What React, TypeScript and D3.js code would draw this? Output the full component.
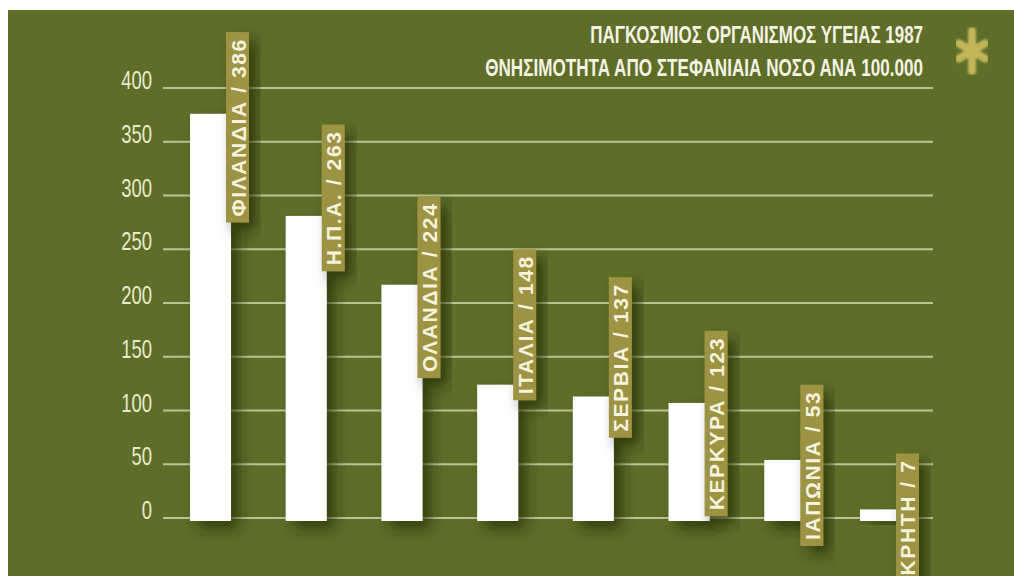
import React, { useEffect, useRef } from "react";
import * as d3 from "d3";

const categories = ["ΦΙΛΑΝΔΙΑ", "Η.Π.Α.", "ΟΛΑΝΔΙΑ", "ΙΤΑΛΙΑ", "ΣΕΡΒΙΑ", "ΚΕΡΚΥΡΑ", "ΙΑΠΩΝΙΑ", "ΚΡΗΤΗ"];
// values printed on the tags
const labelValues = [386, 263, 224, 148, 137, 123, 53, 7];
// bar heights as drawn in the picture
const barValues = [376, 281, 217, 124, 113, 107, 54, 8];
// where each tag starts (top end), in axis units
const labelTops = [452, 366, 299, 250, 224, 174, 124, 60];
const yTicks = [0, 50, 100, 150, 200, 250, 300, 350, 400];
const titleLines = [
  "ΠΑΓΚΟΣΜΙΟΣ ΟΡΓΑΝΙΣΜΟΣ ΥΓΕΙΑΣ 1987",
  "ΘΝΗΣΙΜΟΤΗΤΑ ΑΠΟ ΣΤΕΦΑΝΙΑΙΑ ΝΟΣΟ ΑΝΑ 100.000",
];

const W = 1014;
const H = 576;
const BG = "#5e6e28";
const GOLD = "#9c9443";

export default function App() {
  const ref = useRef<SVGSVGElement | null>(null);

  useEffect(() => {
    const svg = d3.select(ref.current);
    svg.selectAll("*").remove();

    const defs = svg.append("defs");
    const f = defs.append("filter").attr("id", "shadow").attr("x", "-50%").attr("y", "-20%").attr("width", "200%").attr("height", "150%");
    f.append("feDropShadow").attr("dx", 8).attr("dy", 8).attr("stdDeviation", 7).attr("flood-color", "#1b2306").attr("flood-opacity", 0.65);
    const fb = defs.append("filter").attr("id", "soft");
    fb.append("feGaussianBlur").attr("stdDeviation", 0.8);

    svg.append("rect").attr("x", 8).attr("y", 10).attr("width", W - 8).attr("height", H - 10).attr("fill", BG);

    const y = d3.scaleLinear().domain([0, 400]).range([518, 88]);
    const x = d3.scaleBand<string>().domain(categories).range([190, 901]).paddingInner(0.5716).paddingOuter(0);

    // gridlines
    svg.append("g").selectAll("line").data(yTicks).join("line")
      .attr("x1", 163).attr("x2", 933)
      .attr("y1", (d) => y(d)).attr("y2", (d) => y(d))
      .attr("stroke", "#c6cd9f").attr("stroke-opacity", 0.9).attr("stroke-width", 2.2);

    // tick labels (condensed)
    svg.append("g").selectAll("text").data(yTicks).join("text")
      .attr("transform", (d) => `translate(152,${y(d) + 1}) scale(0.74,1)`)
      .attr("text-anchor", "end")
      .attr("font-family", "'Liberation Sans', Arial, sans-serif")
      .attr("font-size", 25)
      .attr("fill", "#e8eacb")
      .text((d) => String(d));

    // bars
    svg.append("g").selectAll("rect").data(categories).join("rect")
      .attr("x", (d) => x(d)!)
      .attr("width", x.bandwidth())
      .attr("y", (d, i) => y(barValues[i]))
      .attr("height", (d, i) => y(0) - y(barValues[i]) + 3)
      .attr("fill", "#ffffff")
      .attr("filter", "url(#shadow)");

    // tags
    const tags = svg.append("g").selectAll("g").data(categories).join("g");
    tags.each(function (d, i) {
      const g = d3.select(this);
      const bx = x(d)! + 36;
      const top = y(labelTops[i]);
      const rect = g.append("rect").attr("x", bx).attr("y", top).attr("width", 23).attr("fill", GOLD).attr("filter", "url(#shadow)");
      const t = g.append("text")
        .attr("font-family", "'Liberation Sans', Arial, sans-serif")
        .attr("font-weight", "bold")
        .attr("font-size", 21)
        .attr("letter-spacing", 1.6)
        .attr("fill", "#f6f3df")
        .text(`${d} / ${labelValues[i]}`);
      const len = (t.node() as SVGTextElement).getComputedTextLength();
      const h = len + 12;
      rect.attr("height", h);
      const bottom = top + h;
      t.attr("transform", `translate(${bx + 19.5},${bottom - 6}) rotate(-90)`);
    });

    // title (condensed via horizontal scale)
    const targets = [333, 438];
    svg.append("g").selectAll("text").data(titleLines).join("text")
      .attr("text-anchor", "end")
      .attr("font-family", "'Liberation Sans', Arial, sans-serif")
      .attr("font-weight", "bold")
      .attr("font-size", 24)
      .attr("fill", "#f4f3e6")
      .text((d) => d)
      .each(function (d, i) {
        const len = (this as SVGTextElement).getComputedTextLength();
        d3.select(this).attr("transform", `translate(923,${i === 0 ? 43 : 76}) scale(${targets[i] / len},1)`);
      });

    // asterisk
    const ast = svg.append("g").attr("transform", "translate(972,51)").attr("filter", "url(#soft)")
      .attr("stroke", "#c2b658").attr("stroke-width", 8).attr("stroke-linecap", "round");
    ast.append("line").attr("x1", 0).attr("y1", -20).attr("x2", 0).attr("y2", 20);
    [60, -60].forEach((a) => {
      ast.append("line").attr("x1", 0).attr("y1", -15).attr("x2", 0).attr("y2", 15).attr("transform", `rotate(${a})`);
    });
  }, []);

  return (
    <svg
      ref={ref}
      width={W}
      height={H}
      style={{ position: "absolute", left: 0, top: 0, background: "#ffffff" }}
    />
  );
}
